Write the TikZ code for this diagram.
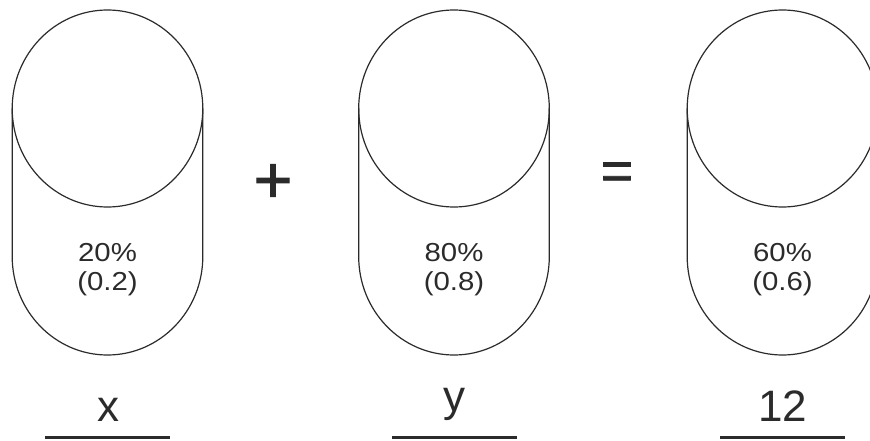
\documentclass[tikz,border=0pt]{standalone}
\usepackage{fontspec}
\setmainfont{Liberation Sans}
\newfontfamily\pctfont[FakeStretch=1.13]{Liberation Sans}
\newfontfamily\opfont[FakeBold=1.6]{Liberation Sans}
\definecolor{ink}{HTML}{2B2B2B}
\begin{document}
\begin{tikzpicture}[x=1pt,y=-1pt,
  pill/.style={draw=ink,line width=1.2pt},
  pct/.style={text=ink,font=\pctfont\fontsize{26}{30}\selectfont,anchor=base,inner sep=0pt},
  lbl/.style={text=ink,font=\fontsize{44}{48}\selectfont,anchor=base,inner sep=0pt},
  uline/.style={draw=ink,line width=3pt},
  op/.style={text=ink,anchor=base,inner sep=0pt}]
\useasboundingbox (0,0) rectangle (870,441);
\clip (0,0) rectangle (870,441);
\fill[white] (0,0) rectangle (870,441);
\foreach \cx/\n in {107.5/a,454/b,782.5/c}{
  \draw[pill] (\cx-95.3,108.5) -- (\cx-95.3,256.5) arc[start angle=180,end angle=0,x radius=95.3,y radius=98.5] -- (\cx+95.3,108.5);
  \draw[pill] (\cx,108.5) ellipse[x radius=95.3,y radius=98.5];
}
\node[pct] (pa) at (107.5,261) {20\%};
\node[pct] (pa2) at (107.5,290) {(0.2)};
\node[pct] (pb) at (454,261) {80\%};
\node[pct] (pb2) at (454,290) {(0.8)};
\node[pct] (pc) at (782.5,261) {60\%};
\node[pct] (pc2) at (782.5,290) {(0.6)};
\node[op,font=\opfont\fontsize{66}{70}\selectfont] (plus) at (273,202.5) {+};
\node[op,font=\opfont\fontsize{55}{60}\selectfont] (eq) at (617,189.5) {=};
\node[lbl] (lx) at (108,421) {x};
\node[lbl] (ly) at (454.5,411) {y};
\node[lbl] (l12) at (782.5,421) {12};
\draw[uline] (45,437.5) -- (170,437.5);
\draw[uline] (392,437.5) -- (517,437.5);
\draw[uline] (720,437.5) -- (845,437.5);
\end{tikzpicture}
\end{document}
